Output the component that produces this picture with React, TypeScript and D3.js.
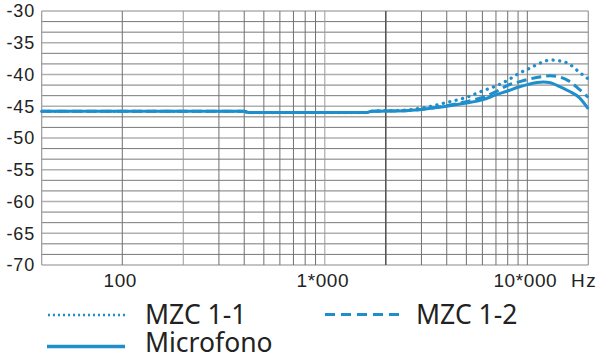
import React from "react";
import * as d3 from "d3";

// frequency points (Hz) shared by all series
const freqs = [40, 100, 200, 400, 420, 1600, 1700, 2500, 3000, 4000, 5000, 6000, 7000, 8000, 9000, 10000, 12000, 13000, 14000, 16000, 18000, 20000];

// dB values
const microfono = [-45.8, -45.8, -45.8, -45.8, -46.0, -46.0, -45.8, -45.7, -45.5, -45.0, -44.5, -44.0, -43.2, -42.6, -42.0, -41.6, -41.2, -41.3, -41.7, -42.6, -43.6, -45.4];
const mzc12 = [-45.8, -45.8, -45.8, -45.8, -46.0, -46.0, -45.8, -45.7, -45.5, -44.9, -44.3, -43.6, -42.7, -41.7, -41.2, -40.8, -40.3, -40.2, -40.3, -41.0, -42.3, -43.6];
const mzc11 = [-45.8, -45.8, -45.8, -45.8, -46.0, -46.0, -45.8, -45.6, -45.3, -44.4, -43.6, -42.6, -41.8, -40.9, -39.9, -39.2, -38.0, -37.7, -37.8, -38.3, -39.6, -40.7];

const yTicks = [-30, -35, -40, -45, -50, -55, -60, -65, -70];
const xLabels = [
  { f: 100, text: "100" },
  { f: 1000, text: "1*000" },
  { f: 10000, text: "10*000" },
];
const gridFreqs = [100, 200, 300, 400, 500, 600, 700, 800, 900, 1000, 2000, 3000, 4000, 5000, 6000, 7000, 8000, 9000, 10000];

const blue = "#1f8fcb";

export default function App() {
  const x = d3.scaleLog().domain([40, 20000]).range([41.7, 588.3]);
  const y = d3.scaleLinear().domain([-70, -30]).range([265, 11]);

  const hLines = d3.range(0, 25).map((i) => -30 - (i * 5) / 3);

  const line = d3
    .line<number>()
    .x((_, i) => x(freqs[i]))
    .y((d) => y(d))
    .curve(d3.curveMonotoneX);

  return (
    <div style={{ position: "absolute", left: 0, top: 0 }}>
      <svg width={600} height={358} style={{ display: "block", background: "#fff" }}>
        {/* horizontal grid */}
        {hLines.map((v, i) => {
          const major = i % 3 === 0;
          return (
            <line
              key={"h" + i}
              x1={x(40)}
              x2={x(20000)}
              y1={y(v)}
              y2={y(v)}
              stroke={major ? "#b0b0b0" : "#6a6a6a"}
              strokeWidth={major ? 1.6 : 0.9}
            />
          );
        })}
        {/* vertical grid */}
        {gridFreqs.map((f) => (
          <line
            key={"v" + f}
            x1={x(f)}
            x2={x(f)}
            y1={y(-30)}
            y2={y(-70)}
            stroke={f === 2000 ? "#555" : f === 1000 || f === 200 ? "#9a9a9a" : "#707070"}
            strokeWidth={f === 2000 ? 1.6 : 1}
          />
        ))}
        <line x1={x(40)} x2={x(40)} y1={y(-30)} y2={y(-70)} stroke="#999" strokeWidth={1.2} />
        <line x1={x(20000)} x2={x(20000)} y1={y(-30)} y2={y(-70)} stroke="#999" strokeWidth={1.2} />

        {/* y tick labels */}
        {yTicks.map((t) => (
          <text
            key={"yt" + t}
            x={35}
            y={y(t)}
            dy="0.36em"
            textAnchor="end"
            fontFamily="Liberation Sans, Arial, sans-serif"
            fontSize={18}
            letterSpacing={0.8}
            fill="#222"
          >
            {t}
          </text>
        ))}
        {/* x tick labels */}
        {xLabels.map((d) => (
          <text
            key={"xt" + d.f}
            x={x(d.f) - 2}
            y={287}
            textAnchor="middle"
            fontFamily="Liberation Sans, Arial, sans-serif"
            fontSize={19}
            letterSpacing={0.6}
            fill="#222"
          >
            {d.text}
          </text>
        ))}
        <text x={571} y={287} fontFamily="Liberation Sans, Arial, sans-serif" fontSize={19} letterSpacing={1.5} fill="#222">
          Hz
        </text>

        {/* series */}
        <path d={line(microfono) || ""} fill="none" stroke={blue} strokeWidth={3} strokeLinejoin="round" />
        <path d={line(mzc12) || ""} fill="none" stroke={blue} strokeWidth={3} strokeDasharray="10,5" />
        <path
          d={line(mzc11) || ""}
          fill="none"
          stroke={blue}
          strokeWidth={3.3}
          strokeDasharray="0.1,6.5"
          strokeLinecap="round"
        />

        {/* legend */}
        <line x1={48} x2={125} y1={315} y2={315} stroke={blue} strokeWidth={2.5} strokeDasharray="2,3" />
        <text x={145} y={323.5} fontFamily="Noto Sans, sans-serif" fontSize={26.5} fill="#222">
          MZC 1-1
        </text>
        <line x1={325} x2={402} y1={314.5} y2={314.5} stroke={blue} strokeWidth={3} strokeDasharray="10,6" />
        <text x={416} y={323.5} fontFamily="Noto Sans, sans-serif" fontSize={26.5} fill="#222">
          MZC 1-2
        </text>
        <line x1={47} x2={125} y1={346.5} y2={346.5} stroke={blue} strokeWidth={3.5} />
        <text x={145} y={351.5} fontFamily="Noto Sans, sans-serif" fontSize={26.5} fill="#222">
          Microfono
        </text>
      </svg>
    </div>
  );
}
